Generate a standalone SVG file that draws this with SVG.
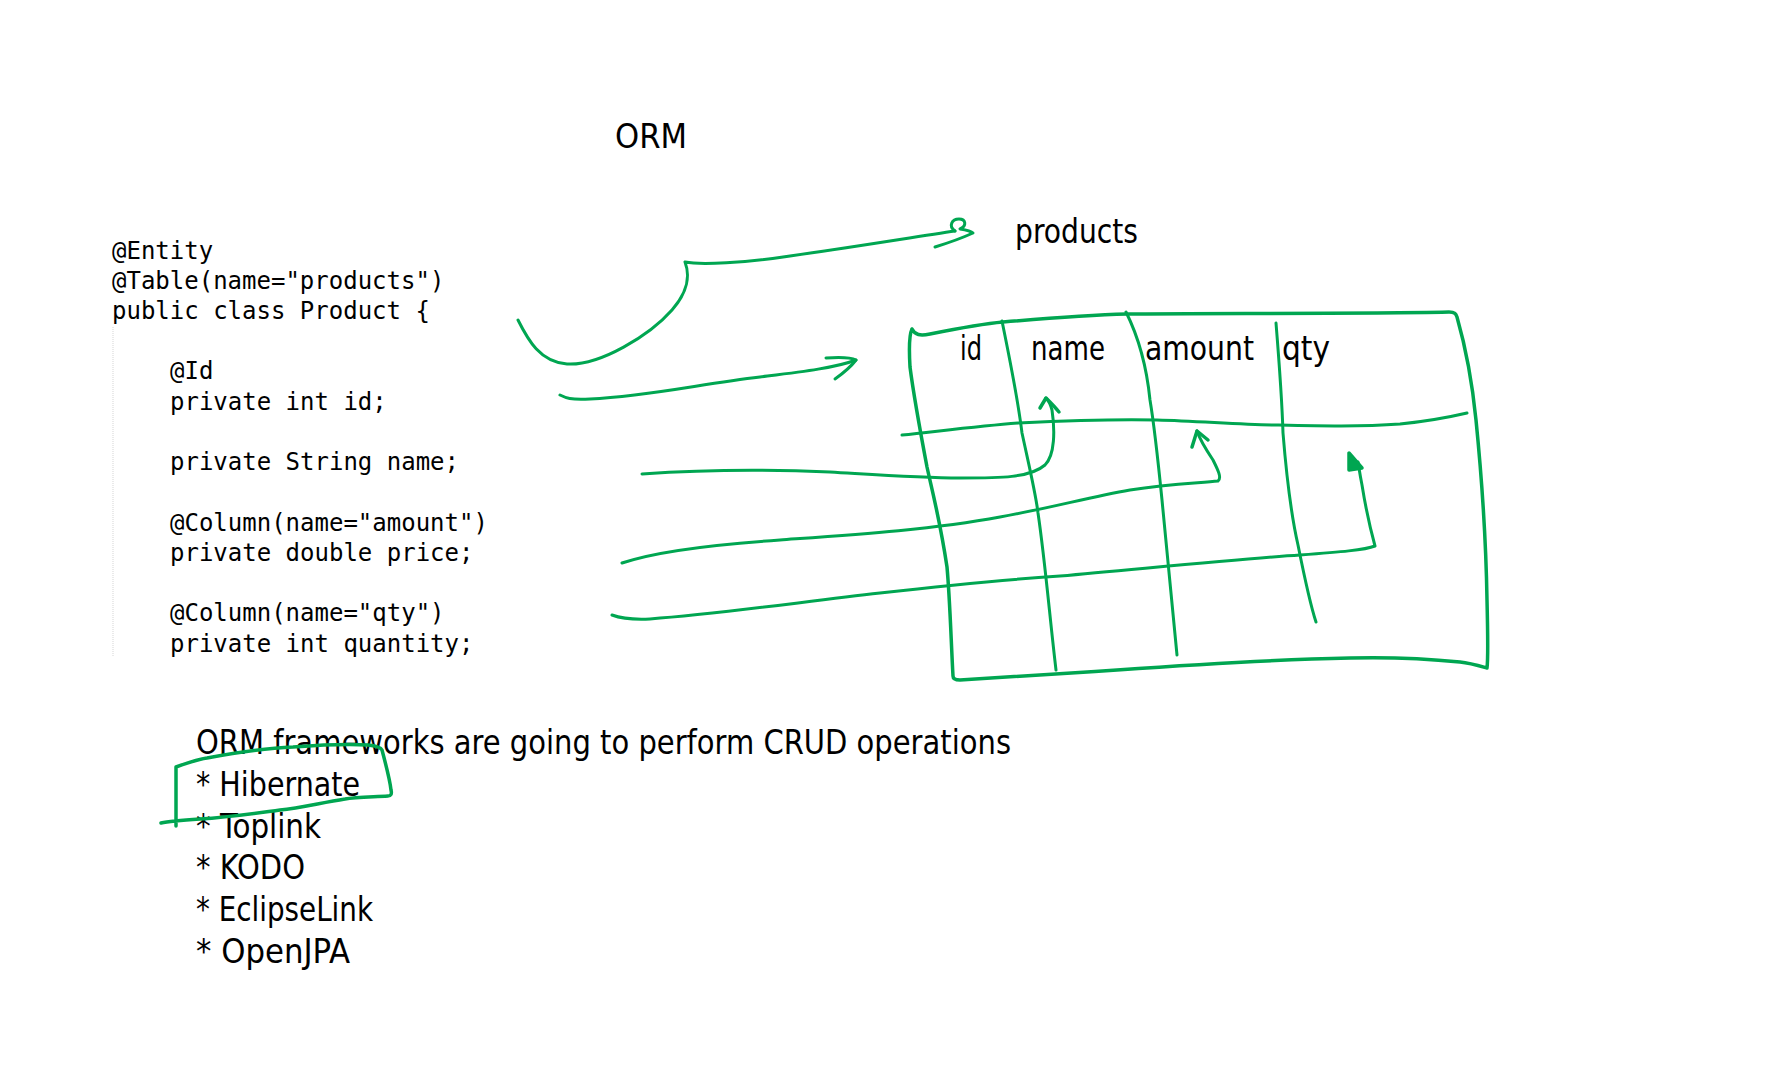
<svg xmlns="http://www.w3.org/2000/svg" width="1787" height="1091" viewBox="0 0 1787 1091">
  <defs>
    <style>
      .code { font-family: "DejaVu Sans Mono", "Liberation Mono", monospace; font-size: 24px; fill: #000; }
      .hand { font-family: "Liberation Sans Narrow", "DejaVu Sans Condensed", "Liberation Sans", sans-serif; font-size: 34px; fill: #000; }
      .ink { fill: none; stroke: #00a651; stroke-width: 3; stroke-linecap: round; stroke-linejoin: round; }
      .thick { stroke-width: 3.5; }
    </style>
  </defs>
  <rect width="1787" height="1091" fill="#ffffff"/>

  <g id="title">
    <text class="hand" x="615" y="148" font-size="36" textLength="72" lengthAdjust="spacingAndGlyphs">ORM</text>
  </g>

  <g id="code">
    <line x1="113" y1="327" x2="113" y2="657" stroke="#dcdcdc" stroke-width="1.2" stroke-dasharray="1,1"/>
    <text class="code" x="112" y="259">@Entity</text>
    <text class="code" x="112" y="289">@Table(name="products")</text>
    <text class="code" x="112" y="319">public class Product {</text>
    <text class="code" x="170" y="379">@Id</text>
    <text class="code" x="170" y="410">private int id;</text>
    <text class="code" x="170" y="470">private String name;</text>
    <text class="code" x="170" y="531">@Column(name="amount")</text>
    <text class="code" x="170" y="561">private double price;</text>
    <text class="code" x="170" y="621">@Column(name="qty")</text>
    <text class="code" x="170" y="652">private int quantity;</text>
  </g>

  <g id="products-label">
    <text class="hand" x="1015" y="243" textLength="123" lengthAdjust="spacingAndGlyphs">products</text>
  </g>

  <g id="table">
    <path class="ink thick" d="M912,329 C915,335 920,336 930,334 C955,329 980,324 1003,322 C1050,318 1090,315 1127,314 C1200,313 1350,314 1449,312 C1455,312 1456,314 1457,317 C1465,345 1472,380 1476,420 C1482,480 1486,540 1487,600 C1488,640 1488,660 1487,668 C1480,666 1470,663 1460,662 C1420,658 1390,657 1350,658 C1300,659 1200,664 1117,670 C1060,674 1000,677 960,680 C955,680 953,679 953,676 C951,640 950,600 947,567 C940,520 932,490 927,467 C920,430 913,390 910,367 C909,350 909,335 912,329"/>
    <path class="ink" d="M1002,321 C1010,360 1018,400 1022,433 C1030,470 1036,495 1038,513 C1045,560 1050,620 1056,670"/>
    <path class="ink" d="M1126,312 C1135,330 1146,360 1150,400 C1155,430 1158,460 1162,500 C1168,560 1173,610 1177,655"/>
    <path class="ink" d="M1276,323 C1279,360 1282,400 1283,433 C1286,470 1290,510 1298,545 C1305,580 1312,610 1316,622"/>
    <path class="ink" d="M902,435 C940,431 980,426 1018,423 C1080,420 1120,419 1157,420 C1200,421 1240,425 1275,425 C1320,426 1360,427 1400,424 C1430,421 1450,417 1467,413"/>
    <text class="hand" x="960" y="360" textLength="22" lengthAdjust="spacingAndGlyphs">id</text>
    <text class="hand" x="1031" y="360" textLength="74" lengthAdjust="spacingAndGlyphs">name</text>
    <text class="hand" x="1145" y="360" textLength="109" lengthAdjust="spacingAndGlyphs">amount</text>
    <text class="hand" x="1282" y="360" textLength="48" lengthAdjust="spacingAndGlyphs">qty</text>
  </g>

  <g id="connectors">
    <!-- class to products -->
    <path class="ink" d="M518,320 C528,340 540,362 567,364 C600,366 650,335 672,310 C688,292 690,275 685,262 C700,265 745,263 790,256 C860,246 920,236 955,231"/>
    <path class="ink" d="M955,231 C948,226 952,219 959,219 C966,219 967,226 960,229 C966,230 971,231 973,233 C962,238 948,243 935,247"/>
    <!-- id arrow -->
    <path class="ink" d="M560,395 C566,398 570,400 590,399 C650,396 700,384 760,377 C800,372 835,368 856,360"/>
    <path class="ink" d="M826,358 C840,357 850,357 856,360 C850,368 842,374 835,379"/>
    <!-- name arrow -->
    <path class="ink" d="M642,474 C700,470 760,469 830,472 C880,475 920,478 960,478 C1000,478 1030,478 1045,465 C1055,455 1055,430 1052,410 C1050,403 1048,400 1046,398"/>
    <path class="ink thick" d="M1040,408 L1046,398 C1050,402 1055,407 1059,412"/>
    <!-- price arrow -->
    <path class="ink" d="M622,563 C660,550 720,544 780,540 C850,535 930,530 1000,517 C1050,508 1090,497 1130,490 C1170,484 1200,483 1218,481 C1222,478 1218,470 1213,460 C1205,448 1200,440 1197,431"/>
    <path class="ink thick" d="M1192,447 L1197,431 L1208,440"/>
    <!-- quantity arrow -->
    <path class="ink" d="M612,615 C620,618 630,620 650,619 C720,614 800,602 880,593 C950,585 1000,580 1060,576 C1150,568 1250,558 1300,555 C1340,552 1365,550 1375,546 C1372,535 1366,510 1362,485 C1360,475 1359,468 1358,462"/>
    <path class="ink thick" fill="#00a651" d="M1349,453 L1349,470 L1362,468 Z" style="fill:#00a651"/>
  </g>

  <g id="frameworks">
    <text class="hand" x="196" y="754" textLength="815" lengthAdjust="spacingAndGlyphs">ORM frameworks are going to perform CRUD operations</text>
    <text class="hand" x="196" y="796" textLength="164" lengthAdjust="spacingAndGlyphs">* Hibernate</text>
    <text class="hand" x="196" y="838" textLength="125" lengthAdjust="spacingAndGlyphs">* Toplink</text>
    <text class="hand" x="196" y="879" textLength="109" lengthAdjust="spacingAndGlyphs">* KODO</text>
    <text class="hand" x="196" y="921" textLength="177" lengthAdjust="spacingAndGlyphs">* EclipseLink</text>
    <text class="hand" x="196" y="963" textLength="154" lengthAdjust="spacingAndGlyphs">* OpenJPA</text>
  </g>

  <g id="hibernate-highlight">
    <path class="ink thick" d="M176,826 L176,767 C190,762 200,759 207,758 C240,752 270,748 293,747 C320,745 350,744 368,745 C378,746 381,748 382,750 C386,765 390,780 391,790 C392,794 391,796 388,796 C370,797 355,797 345,799 C320,803 300,808 280,810 C250,814 230,817 200,819 C185,820 170,821 161,823"/>
  </g>
</svg>
